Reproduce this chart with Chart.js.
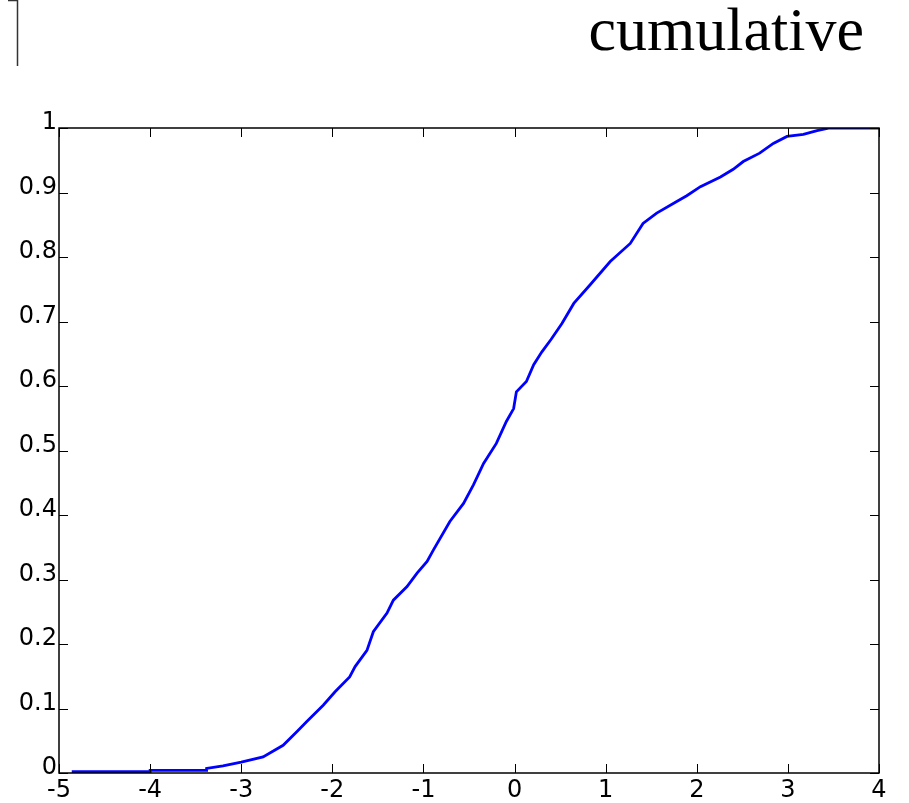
<!DOCTYPE html>
<html lang="en">
<head>
    <meta charset="UTF-8">
    <title>cumulative</title>
    <script src="https://cdn.jsdelivr.net/npm/chart.js"></script>
    <style>
        body {
            margin: 0;
            padding: 0;
            background: #ffffff;
        }
        #grafico {
            display: block;
        }
    </style>
</head>
<body>
    <canvas id="grafico" width="909" height="803"></canvas>
    <script>
        // valores (x, probabilidade acumulada)
        const cdfX = [-4.86, -4.0, -4.0, -3.38, -3.38, -3.2, -3.0, -2.76, -2.54, -2.39,
            -2.28, -2.10, -1.97, -1.81, -1.75, -1.62, -1.55, -1.40, -1.33, -1.18,
            -1.07, -0.96, -0.89, -0.71, -0.56, -0.45, -0.34, -0.20, -0.09, -0.01,
            0.02, 0.13, 0.21, 0.30, 0.40, 0.52, 0.65, 0.83, 1.05, 1.27,
            1.41, 1.56, 1.78, 1.89, 2.04, 2.26, 2.40, 2.51, 2.69, 2.84,
            2.99, 3.17, 3.32, 3.46, 4.0];
        const cdfY = [0.002, 0.002, 0.004, 0.004, 0.007, 0.011, 0.017, 0.025, 0.043, 0.064,
            0.080, 0.105, 0.126, 0.149, 0.165, 0.190, 0.219, 0.248, 0.268, 0.289,
            0.310, 0.328, 0.346, 0.390, 0.418, 0.447, 0.480, 0.511, 0.545, 0.565,
            0.591, 0.607, 0.633, 0.653, 0.672, 0.697, 0.728, 0.757, 0.793, 0.821,
            0.852, 0.868, 0.886, 0.895, 0.909, 0.924, 0.936, 0.948, 0.961, 0.976,
            0.987, 0.990, 0.996, 1.000, 1.000];
        const xTicks = [-5, -4, -3, -2, -1, 0, 1, 2, 3, 4];
        const yTicks = [0, 0.1, 0.2, 0.3, 0.4, 0.5, 0.6, 0.7, 0.8, 0.9, 1];
        const titulo = "cumulative";

        const pontos = cdfX.map((x, i) => ({ x: x, y: cdfY[i] }));
        const fonteEixo = { family: '"DejaVu Sans", Verdana, sans-serif', size: 24 };

        // caixa com marcas para dentro, titulo e o traço no canto
        const caixaPlugin = {
            id: 'caixa',
            afterDraw(chart) {
                const ctx = chart.ctx;
                const a = chart.chartArea;
                const sx = chart.scales.x;
                const sy = chart.scales.y;
                const tam = 9;
                ctx.save();
                ctx.strokeStyle = '#000';
                ctx.lineWidth = 1;
                xTicks.forEach(v => {
                    const px = Math.round(sx.getPixelForValue(v)) + 0.5;
                    ctx.beginPath();
                    ctx.moveTo(px, a.bottom);
                    ctx.lineTo(px, a.bottom - tam);
                    ctx.moveTo(px, a.top);
                    ctx.lineTo(px, a.top + tam);
                    ctx.stroke();
                });
                yTicks.forEach(v => {
                    const py = Math.round(sy.getPixelForValue(v)) + 0.5;
                    ctx.beginPath();
                    ctx.moveTo(a.left, py);
                    ctx.lineTo(a.left + tam, py);
                    ctx.moveTo(a.right, py);
                    ctx.lineTo(a.right - tam, py);
                    ctx.stroke();
                });
                ctx.lineWidth = 1.5;
                ctx.strokeRect(a.left, a.top, a.right - a.left, a.bottom - a.top);

                // traço no canto superior esquerdo
                ctx.strokeStyle = '#333';
                ctx.beginPath();
                ctx.moveTo(8, 0.5);
                ctx.lineTo(17.5, 0.5);
                ctx.lineTo(17.5, 66);
                ctx.stroke();

                ctx.fillStyle = '#000';
                ctx.font = '62px "Liberation Serif", "Times New Roman", serif';
                ctx.textAlign = 'right';
                ctx.textBaseline = 'alphabetic';
                ctx.fillText(titulo, 864, 50);
                ctx.restore();
            }
        };

        document.addEventListener("DOMContentLoaded", () => {
            const ctx = document.getElementById('grafico').getContext('2d');
            new Chart(ctx, {
                type: 'line',
                data: {
                    datasets: [{
                        label: titulo,
                        data: pontos,
                        borderColor: '#0000ff',
                        borderWidth: 2.8,
                        pointRadius: 0,
                        tension: 0,
                        fill: false
                    }]
                },
                options: {
                    responsive: false,
                    animation: false,
                    layout: {
                        padding: { top: 128, right: 30, left: 0, bottom: 0 }
                    },
                    plugins: {
                        legend: { display: false },
                        tooltip: { enabled: false }
                    },
                    scales: {
                        x: {
                            type: 'linear',
                            min: -5,
                            max: 4,
                            grid: { display: false, drawTicks: false },
                            border: { display: false },
                            afterFit(scale) { scale.height = 30; },
                            afterBuildTicks(scale) { scale.ticks = xTicks.map(v => ({ value: v })); },
                            ticks: {
                                padding: 3,
                                color: '#000',
                                font: fonteEixo,
                                callback: v => String(v)
                            }
                        },
                        y: {
                            min: 0,
                            max: 1,
                            grid: { display: false, drawTicks: false },
                            border: { display: false },
                            afterFit(scale) { scale.width = 59; },
                            afterBuildTicks(scale) { scale.ticks = yTicks.map(v => ({ value: v })); },
                            ticks: {
                                padding: 2,
                                labelOffset: -5,
                                color: '#000',
                                font: fonteEixo,
                                callback: v => String(Math.round(v * 10) / 10)
                            }
                        }
                    }
                },
                plugins: [caixaPlugin]
            });
        });
    </script>
</body>
</html>
